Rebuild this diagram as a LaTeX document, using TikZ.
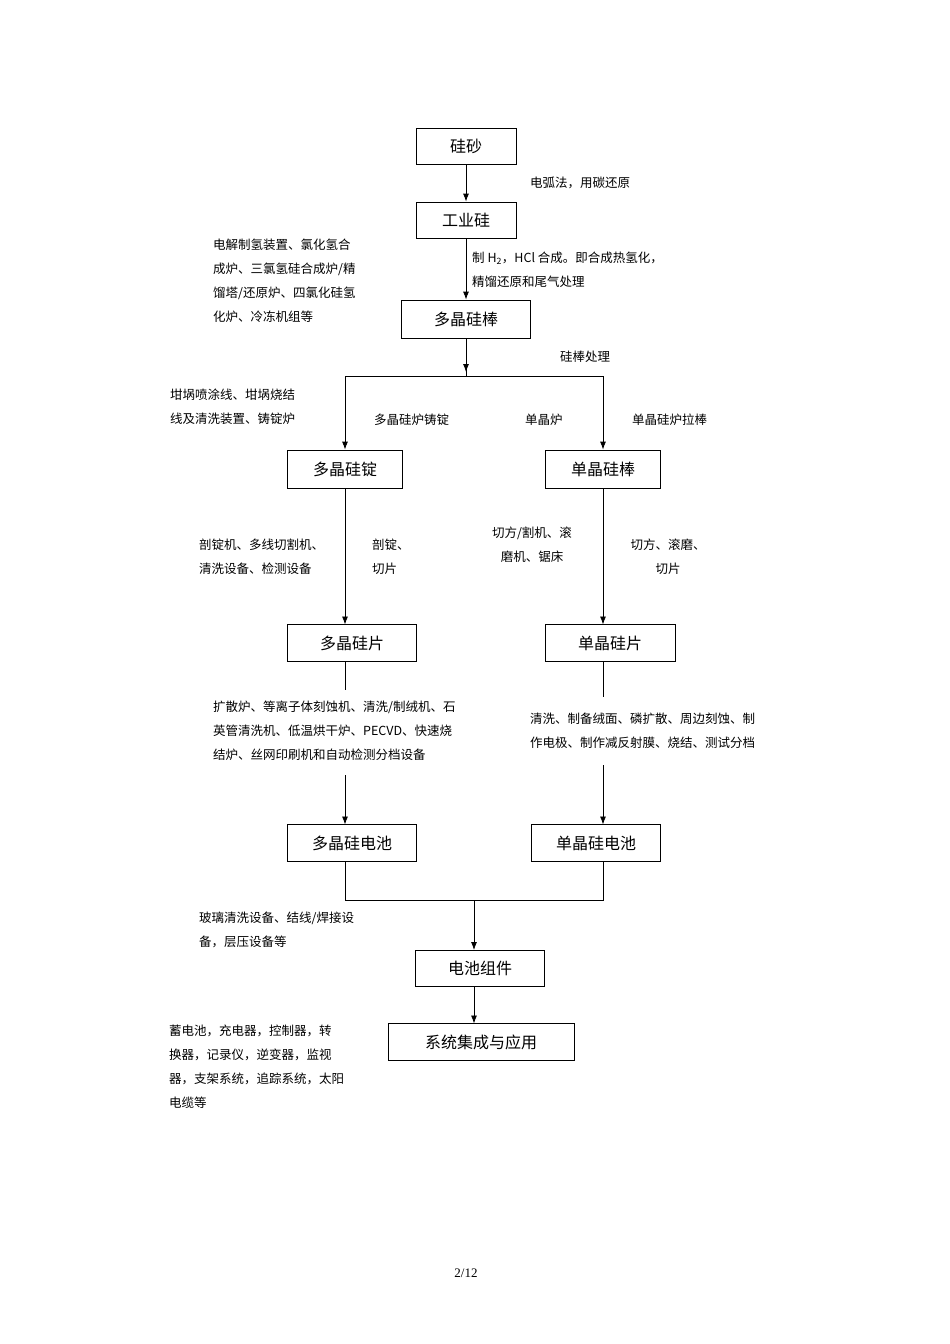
\documentclass[tikz,border=0pt]{standalone}
\usepackage{fontspec}
\setmainfont{Liberation Serif}
\newfontfamily\cjk{Noto Sans CJK SC}
\usetikzlibrary{arrows.meta}
\begin{document}
\begin{tikzpicture}[x=1pt,y=-1pt,
  bx/.style={draw,thick,minimum height=36pt,inner sep=0pt,font=\cjk\fontsize{16}{18}\selectfont},
  lb/.style={font=\cjk\fontsize{12.5}{24}\selectfont,align=left,anchor=north west,inner sep=0pt},
  ar/.style={thick,-{Latex[length=8pt,width=6pt]}},
  ln/.style={thick}]
\useasboundingbox (0,0) rectangle (950,1344);
\node[bx,minimum width=100pt] (a) at (466,146) {硅砂};
\node[bx,minimum width=100pt] (b) at (466,220) {工业硅};
\node[bx,minimum width=129pt,minimum height=38pt] (c) at (466,319) {多晶硅棒};
\node[bx,minimum width=115pt,minimum height=38pt] (d) at (345,469) {多晶硅锭};
\node[bx,minimum width=115pt,minimum height=38pt] (e) at (603,469) {单晶硅棒};
\node[bx,minimum width=129pt,minimum height=37pt] (f) at (352,643) {多晶硅片};
\node[bx,minimum width=130pt,minimum height=37pt] (g) at (610,643) {单晶硅片};
\node[bx,minimum width=129pt,minimum height=37pt] (h) at (352,843) {多晶硅电池};
\node[bx,minimum width=129pt,minimum height=37pt] (i) at (596,843) {单晶硅电池};
\node[bx,minimum width=129pt] (j) at (480,968) {电池组件};
\node[bx,minimum width=186pt,minimum height=37pt] (k) at (481,1042) {系统集成与应用};
\coordinate (s1) at (345,376); \coordinate (s2) at (603,376);
\coordinate (m1) at (345,900); \coordinate (m2) at (603,900); \coordinate (m3) at (474,900);
\coordinate (f1) at (345,690); \coordinate (f2) at (345,775);
\coordinate (g1) at (603,697); \coordinate (g2) at (603,765);
\draw[ar] (a) -- (b);
\draw[ar] (b) -- (c);
\draw[ln] (c.south) -- (466,376);
\draw[ar] (c.south) -- (466,372);
\draw[ln] (s1) -- (s2);
\draw[ar] (s1) -- (d.north);
\draw[ar] (s2) -- (e.north);
\draw[ar] (d.south) -- (345,624.5);
\draw[ar] (e.south) -- (603,624.5);
\draw[ln] (345,661.5) -- (f1);
\draw[ar] (f2) -- (345,824.5);
\draw[ln] (603,661.5) -- (g1);
\draw[ar] (g2) -- (603,824.5);
\draw[ln] (345,861.5) -- (m1) -- (m2) -- (603,861.5);
\draw[ar] (m3) -- (474,950);
\draw[ar] (474,986) -- (474,1023.5);
\node[lb] at (530,177) {电弧法，用碳还原};
\node[lb] at (472,252) {制 H\textsubscript{2}，HCl 合成。即合成热氢化，\\精馏还原和尾气处理};
\node[lb] at (213,239) {电解制氢装置、氯化氢合\\成炉、三氯氢硅合成炉/精\\馏塔/还原炉、四氯化硅氢\\化炉、冷冻机组等};
\node[lb] at (560,351) {硅棒处理};
\node[lb] at (170,389) {坩埚喷涂线、坩埚烧结\\线及清洗装置、铸锭炉};
\node[lb] at (374,414) {多晶硅炉铸锭};
\node[lb] at (525,414) {单晶炉};
\node[lb] at (632,414) {单晶硅炉拉棒};
\node[lb] at (199,539) {剖锭机、多线切割机、\\清洗设备、检测设备};
\node[lb] at (372,539) {剖锭、\\切片};
\node[lb,align=center,anchor=north] at (532,527) {切方/割机、滚\\磨机、锯床};
\node[lb,align=center,anchor=north] at (668,539) {切方、滚磨、\\切片};
\node[lb] at (213,701) {扩散炉、等离子体刻蚀机、清洗/制绒机、石\\英管清洗机、低温烘干炉、PECVD、快速烧\\结炉、丝网印刷机和自动检测分档设备};
\node[lb] at (530,713) {清洗、制备绒面、磷扩散、周边刻蚀、制\\作电极、制作减反射膜、烧结、测试分档};
\node[lb] at (199,912) {玻璃清洗设备、结线/焊接设\\备，层压设备等};
\node[lb] at (169,1025) {蓄电池，充电器，控制器，转\\换器，记录仪，逆变器，监视\\器，支架系统，追踪系统，太阳\\电缆等};
\node[font=\fontsize{13}{15}\selectfont] (p) at (466,1273) {2/12};
\end{tikzpicture}
\end{document}
